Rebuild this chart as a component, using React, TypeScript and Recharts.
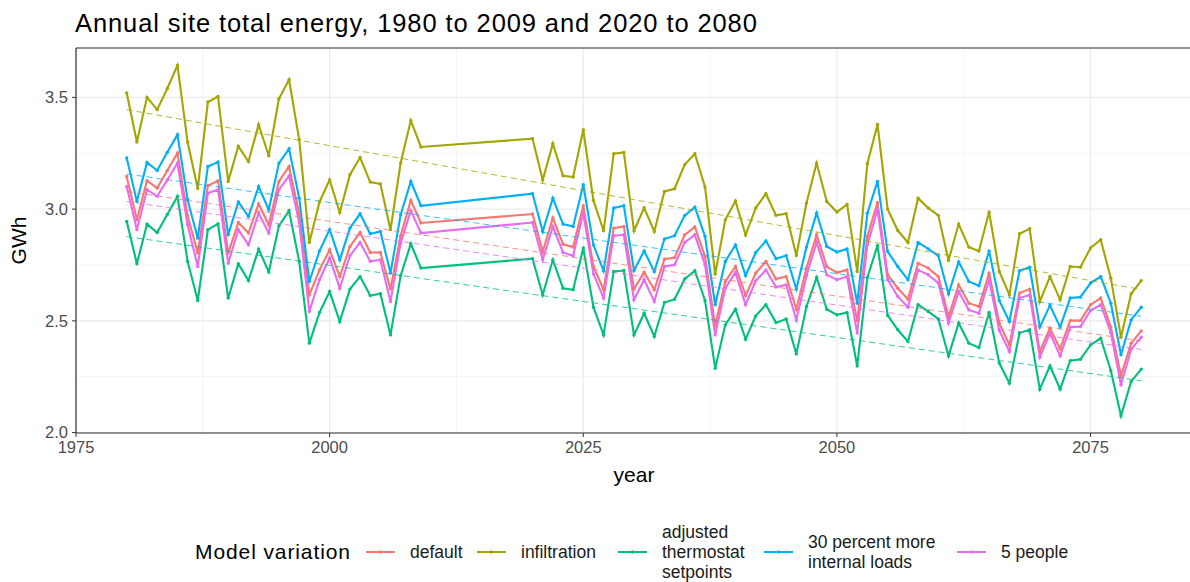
import { CartesianGrid, Line, LineChart, ReferenceLine, XAxis, YAxis } from "recharts";

// years with simulation results: 1980-2009 and 2020-2080
const years = [
  1980, 1981, 1982, 1983, 1984, 1985, 1986, 1987, 1988, 1989, 1990, 1991, 1992, 1993, 1994,
  1995, 1996, 1997, 1998, 1999, 2000, 2001, 2002, 2003, 2004, 2005, 2006, 2007, 2008, 2009,
  2020, 2021, 2022, 2023, 2024, 2025, 2026, 2027, 2028, 2029, 2030, 2031, 2032, 2033, 2034,
  2035, 2036, 2037, 2038, 2039, 2040, 2041, 2042, 2043, 2044, 2045, 2046, 2047, 2048, 2049,
  2050, 2051, 2052, 2053, 2054, 2055, 2056, 2057, 2058, 2059, 2060, 2061, 2062, 2063, 2064,
  2065, 2066, 2067, 2068, 2069, 2070, 2071, 2072, 2073, 2074, 2075, 2076, 2077, 2078, 2079, 2080,
];

const defaultGWh = [
  3.146, 2.952, 3.127, 3.094, 3.173, 3.251, 2.97, 2.803, 3.105, 3.127, 2.803, 2.94, 2.893, 3.024, 2.93,
  3.124, 3.191, 2.98, 2.616, 2.728, 2.818, 2.698, 2.833, 2.895, 2.806, 2.806, 2.642, 2.881, 3.039, 2.938,
  2.978, 2.81, 2.96, 2.843, 2.83, 3.015, 2.743, 2.639, 2.915, 2.922,
  2.642, 2.718, 2.639, 2.776, 2.783, 2.885, 2.92, 2.788, 2.478, 2.676,
  2.743, 2.613, 2.714, 2.766, 2.687, 2.698, 2.552, 2.736, 2.885, 2.743,
  2.716, 2.728, 2.501, 2.878, 3.03, 2.706, 2.646, 2.597, 2.758, 2.736,
  2.698, 2.519, 2.661, 2.579, 2.564, 2.714, 2.49, 2.392, 2.624, 2.642,
  2.363, 2.467, 2.375, 2.501, 2.501, 2.572, 2.602, 2.472, 2.254, 2.4, 2.455,
];

const infiltrationGWh = [
  3.52, 3.3, 3.5, 3.445, 3.54, 3.643, 3.3, 3.092, 3.479, 3.504, 3.124, 3.281, 3.213, 3.378, 3.239,
  3.494, 3.579, 3.311, 2.851, 3.032, 3.131, 2.985, 3.154, 3.231, 3.121, 3.113, 2.908, 3.206, 3.396, 3.278,
  3.315, 3.13, 3.293, 3.149, 3.144, 3.355, 3.039, 2.903, 3.248, 3.254,
  2.903, 3.006, 2.9, 3.079, 3.091, 3.199, 3.248, 3.099, 2.709, 2.952,
  3.036, 2.884, 3.005, 3.069, 2.972, 2.979, 2.792, 3.027, 3.206, 3.034,
  2.987, 3.021, 2.721, 3.203, 3.379, 3.0, 2.904, 2.851, 3.049, 3.005,
  2.972, 2.77, 2.933, 2.83, 2.812, 2.987, 2.721, 2.616, 2.89, 2.912,
  2.586, 2.698, 2.594, 2.743, 2.74, 2.826, 2.863, 2.691, 2.427, 2.621, 2.68,
];

const thermostatGWh = [
  2.945, 2.755, 2.933, 2.895, 2.976, 3.057, 2.766, 2.591, 2.908, 2.934, 2.602, 2.755, 2.68, 2.821, 2.719,
  2.925, 2.993, 2.766, 2.4, 2.537, 2.631, 2.497, 2.642, 2.698, 2.613, 2.621, 2.437, 2.702, 2.845, 2.736,
  2.778, 2.616, 2.773, 2.646, 2.639, 2.826, 2.561, 2.437, 2.721, 2.725,
  2.437, 2.534, 2.43, 2.582, 2.597, 2.687, 2.724, 2.591, 2.288, 2.482,
  2.552, 2.418, 2.522, 2.572, 2.492, 2.508, 2.352, 2.564, 2.694, 2.552,
  2.527, 2.537, 2.298, 2.694, 2.837, 2.524, 2.46, 2.407, 2.572, 2.542,
  2.508, 2.343, 2.49, 2.4, 2.38, 2.537, 2.311, 2.221, 2.445, 2.46,
  2.194, 2.298, 2.194, 2.322, 2.328, 2.392, 2.422, 2.277, 2.075, 2.229, 2.284,
];

const internalLoadsGWh = [
  3.229, 3.034, 3.209, 3.173, 3.254, 3.333, 3.042, 2.87, 3.191, 3.211, 2.885, 3.032, 2.967, 3.101, 2.997,
  3.206, 3.27, 3.049, 2.676, 2.813, 2.908, 2.773, 2.915, 2.979, 2.89, 2.9, 2.714, 2.975, 3.124, 3.015,
  3.069, 2.9, 3.049, 2.933, 2.922, 3.109, 2.84, 2.724, 3.005, 3.015,
  2.725, 2.813, 2.721, 2.866, 2.881, 2.972, 3.009, 2.878, 2.572, 2.766,
  2.84, 2.703, 2.806, 2.858, 2.778, 2.792, 2.642, 2.83, 2.982, 2.833,
  2.808, 2.822, 2.579, 2.982, 3.124, 2.81, 2.743, 2.684, 2.851, 2.822,
  2.791, 2.62, 2.764, 2.676, 2.657, 2.813, 2.591, 2.497, 2.724, 2.74,
  2.472, 2.569, 2.472, 2.602, 2.606, 2.669, 2.698, 2.579, 2.348, 2.504, 2.561,
];

const fivePeopleGWh = [
  3.101, 2.908, 3.087, 3.057, 3.13, 3.206, 2.93, 2.743, 3.072, 3.087, 2.758, 2.908, 2.84, 2.982, 2.893,
  3.087, 3.149, 2.94, 2.542, 2.684, 2.781, 2.646, 2.791, 2.851, 2.766, 2.773, 2.586, 2.848, 2.993, 2.893,
  2.94, 2.773, 2.922, 2.806, 2.791, 2.982, 2.71, 2.602, 2.881, 2.885,
  2.594, 2.684, 2.586, 2.743, 2.751, 2.851, 2.885, 2.751, 2.437, 2.646,
  2.716, 2.572, 2.679, 2.728, 2.651, 2.661, 2.504, 2.702, 2.851, 2.706,
  2.684, 2.698, 2.445, 2.84, 2.997, 2.684, 2.609, 2.561, 2.728, 2.706,
  2.669, 2.49, 2.631, 2.549, 2.534, 2.684, 2.457, 2.363, 2.602, 2.616,
  2.337, 2.445, 2.343, 2.472, 2.474, 2.546, 2.572, 2.448, 2.213, 2.373, 2.427,
];

// dashed trend lines, read at their two ends (1980 and 2080)
const trendYears = [1980, 2080];
const trendStart = [3.079, 3.445, 2.877, 3.157, 3.034];
const trendEnd = [2.41, 2.64, 2.232, 2.52, 2.372];

const xTicks = [1975, 2000, 2025, 2050, 2075];
const xMinor = [1987.5, 2012.5, 2037.5, 2062.5];
const yTicks = [2.0, 2.5, 3.0, 3.5];
const yMinor = [2.25, 2.75, 3.25];

const series = [
  { key: "default", label: ["default"], color: "#F8766D", values: defaultGWh },
  { key: "infiltration", label: ["infiltration"], color: "#A3A500", values: infiltrationGWh },
  { key: "thermostat", label: ["adjusted", "thermostat", "setpoints"], color: "#00BF7D", values: thermostatGWh },
  { key: "loads", label: ["30 percent more", "internal loads"], color: "#00B0F6", values: internalLoadsGWh },
  { key: "people", label: ["5 people"], color: "#E76BF3", values: fivePeopleGWh },
];

const rows = years.map((year, i) => {
  const row: Record<string, number> = { year };
  series.forEach((s) => {
    row[s.key] = s.values[i];
  });
  return row;
});

const trendRows = series.map((s, j) =>
  trendYears.map((year, k) => ({ year, trend: k === 0 ? trendStart[j] : trendEnd[j] }))
);

const FONT = "'Liberation Sans', Arial, Helvetica, sans-serif";
const Y_TOP = 3.721;
const legendKeyX = [366, 477, 618, 764, 957];

function YLabel(props: any) {
  const vb = props.viewBox;
  const cx = vb.x + 18;
  const cy = vb.y + vb.height / 2;
  return (
    <text x={cx} y={cy} transform={`rotate(-90, ${cx}, ${cy})`} textAnchor="middle" dominantBaseline="central"
      style={{ fontFamily: FONT, fontSize: 21, fill: "#000" }}>
      GWh
    </text>
  );
}

export default function App() {
  return (
    <div style={{ position: "absolute", left: 0, top: 0, width: 1190, height: 582, overflow: "hidden", background: "#fff", fontFamily: FONT }}>
      <div style={{ position: "absolute", left: 75, top: 10, fontSize: 25.5, letterSpacing: 0.9, lineHeight: "26px", color: "#000", whiteSpace: "nowrap" }}>
        Annual site total energy, 1980 to 2009 and 2020 to 2080
      </div>
      <LineChart width={1200} height={582} data={rows} margin={{ top: 48, right: 8, bottom: 119, left: 0 }}>
        <CartesianGrid stroke="#EBEBEB" strokeWidth={1.2} />
        {xMinor.map((x) => (
          <ReferenceLine key={"xm" + x} x={x} stroke="#F0F0F0" strokeWidth={0.7} />
        ))}
        {yMinor.map((y) => (
          <ReferenceLine key={"ym" + y} y={y} stroke="#F0F0F0" strokeWidth={0.7} />
        ))}
        <ReferenceLine y={Y_TOP} stroke="#333333" strokeWidth={1.2} />
        <XAxis
          dataKey="year"
          type="number"
          domain={[1975, 2085]}
          ticks={xTicks}
          allowDataOverflow
          allowDuplicatedCategory={false}
          height={30}
          tickSize={4}
          tickMargin={4}
          axisLine={{ stroke: "#333333", strokeWidth: 1.2 }}
          tickLine={{ stroke: "#333333" }}
          tick={{ fill: "#4D4D4D", fontSize: 16.5, fontFamily: FONT }}
          label={{ value: "year", position: "bottom", offset: 4, style: { fontFamily: FONT, fontSize: 21, fill: "#000" } }}
        />
        <YAxis
          type="number"
          domain={[1.998, Y_TOP]}
          ticks={yTicks}
          allowDataOverflow
          width={76}
          tickSize={4}
          tickMargin={4}
          tickFormatter={(v: number) => v.toFixed(1)}
          axisLine={{ stroke: "#333333", strokeWidth: 1.2 }}
          tickLine={{ stroke: "#333333" }}
          tick={{ fill: "#4D4D4D", fontSize: 16.5, fontFamily: FONT }}
          label={<YLabel />}
        />
        {series.map((s) => (
          <Line
            key={s.key}
            dataKey={s.key}
            type="linear"
            stroke={s.color}
            strokeWidth={2.1}
            dot={{ r: 1.7, fill: s.color, stroke: "none" }}
            activeDot={false}
            isAnimationActive={false}
          />
        ))}
        {series.map((s, j) => (
          <Line
            key={s.key + "_trend"}
            data={trendRows[j]}
            dataKey="trend"
            type="linear"
            stroke={s.color}
            strokeWidth={0.8}
            strokeDasharray="6 4"
            dot={false}
            activeDot={false}
            isAnimationActive={false}
          />
        ))}
      </LineChart>
      <div style={{ position: "absolute", left: 195, top: 552, transform: "translateY(-50%)", fontSize: 21, letterSpacing: 0.9, color: "#000", whiteSpace: "nowrap" }}>
        Model variation
      </div>
      {series.map((s, i) => (
        <div key={s.key} style={{ position: "absolute", left: legendKeyX[i], top: 552, transform: "translateY(-50%)", display: "flex", alignItems: "center" }}>
          <svg width={29} height={12} style={{ display: "block" }}>
            <line x1={0} x2={29} y1={6} y2={6} stroke={s.color} strokeWidth={2} />
            <circle cx={14.5} cy={6} r={1.7} fill={s.color} />
          </svg>
          <div style={{ marginLeft: 15, fontSize: 17.5, lineHeight: "20px", color: "#1a1a1a", whiteSpace: "nowrap" }}>
            {s.label.map((l) => (
              <div key={l}>{l}</div>
            ))}
          </div>
        </div>
      ))}
    </div>
  );
}
